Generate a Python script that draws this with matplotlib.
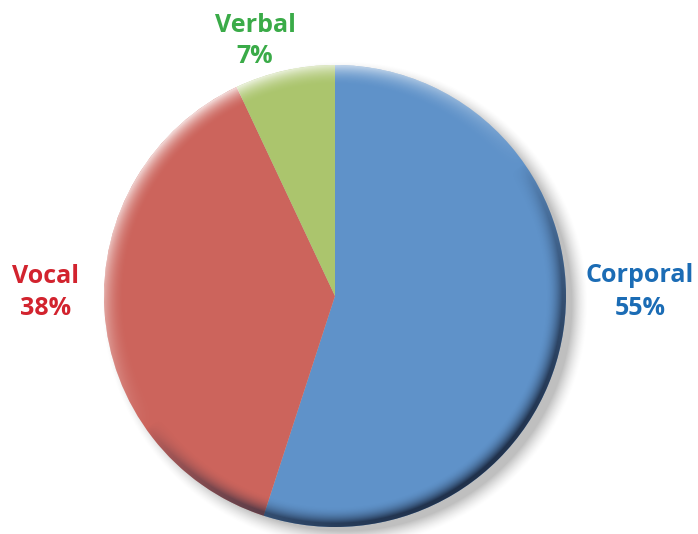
import numpy as np
import matplotlib
matplotlib.use("Agg")
import matplotlib.pyplot as plt
from matplotlib.patches import Circle

# data
labels = ["Corporal", "Vocal", "Verbal"]
shares = [55, 38, 7]
slice_colors = ["#5f92c9", "#cc645c", "#abc56d"]
label_colors = ["#1b6cb5", "#d2232e", "#3aab48"]

W, H = 698, 534
cx, cy, R = 335, 534 - 296, 231

fig = plt.figure(figsize=(W / 100, H / 100), dpi=100)
ax = fig.add_axes([0, 0, 1, 1])

# soft drop shadow, lower right
yy, xx = np.mgrid[0:H, 0:W]
px = xx + 0.5
py = H - (yy + 0.5)
ds = np.hypot(px - (cx + 10), py - (cy - 8))
sh = np.clip((R + 4 - ds) / 16 + 0.5, 0, 1) ** 1.5
shadow = np.zeros((H, W, 4))
shadow[..., :3] = 0.55
shadow[..., 3] = sh * 0.55
ax.imshow(shadow, extent=(0, W, 0, H), origin="upper", zorder=1)

wedges, _ = ax.pie(shares, colors=slice_colors, startangle=90, counterclock=False,
                   center=(cx, cy), radius=R, frame=True,
                   wedgeprops=dict(linewidth=0))
for w in wedges:
    w.set_zorder(2)

# rim shading: light at upper left, dark at lower right
d = np.hypot(px - cx, py - cy)
theta = np.arctan2(py - cy, px - cx)
t = np.clip((d / R - 0.91) / 0.09, 0, 1) ** 2
L = np.cos(theta - np.deg2rad(125))
rim = np.zeros((H, W, 4))
light = np.clip(L, 0, 1)
dark = np.clip(-L, 0, 1)
a_light = t * light * 0.8
a_dark = np.clip(t * 1.5, 0, 1) * dark ** 0.7 * 0.9
a = a_light + a_dark
rgb_light = np.array([1.0, 1.0, 1.0])
rgb_dark = np.array([0.10, 0.15, 0.24])
mix = np.where(a > 0, a_dark / np.maximum(a, 1e-9), 0)[..., None]
rim[..., :3] = rgb_light * (1 - mix) + rgb_dark * mix
rim[..., 3] = np.clip(a, 0, 1)
im = ax.imshow(rim, extent=(0, W, 0, H), origin="upper", zorder=3)
clip = Circle((cx, cy), R, transform=ax.transData)
im.set_clip_path(clip)

ax.set_xlim(0, W)
ax.set_ylim(0, H)
ax.set_aspect("auto")
ax.axis("off")

# labels (two lines each)
pos = {"Corporal": (640, 282, 315), "Vocal": (46, 283, 315), "Verbal": (255, 32, 63)}
for name, pct, col in zip(labels, shares, label_colors):
    x, y1, y2 = pos[name]
    ax.text(x, H - y1, name, ha="center", va="baseline", color=col,
            fontsize=18, fontweight="bold", family="Open Sans", zorder=5)
    ax.text(x, H - y2, f"{pct}%", ha="center", va="baseline", color=col,
            fontsize=18, fontweight="bold", family="Open Sans", zorder=5)

fig.savefig("out.png", dpi=100)
